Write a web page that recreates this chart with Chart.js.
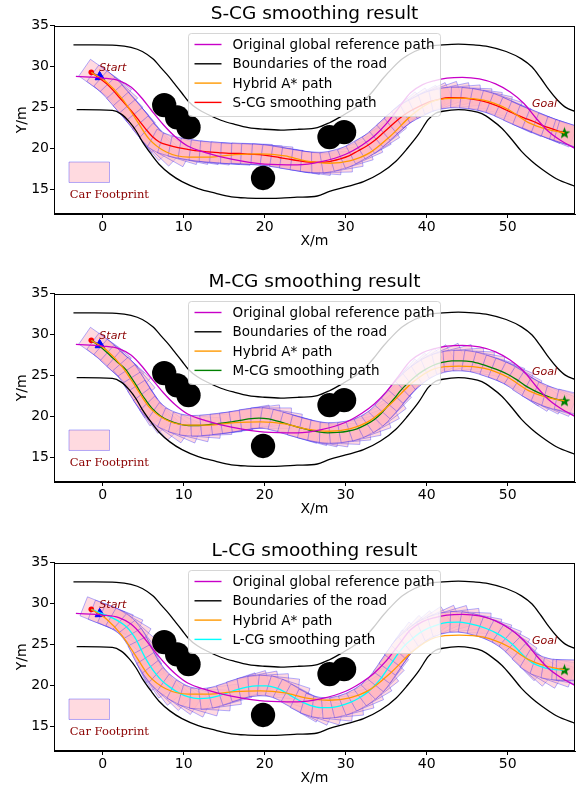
<!DOCTYPE html>
<html>
<head>
<meta charset="utf-8">
<script src="https://cdn.jsdelivr.net/npm/chart.js@4.4.0/dist/chart.umd.min.js"></script>
<style>
  html, body { margin: 0; padding: 0; overflow: hidden; background: #fff; width: 582px; height: 785px; }
  .panel { position: absolute; left: 0; width: 582px; height: 262px; }
</style>
</head>
<body>
<div class="panel" style="top:0px"><canvas id="c0" width="582" height="262"></canvas></div>
<div class="panel" style="top:268px"><canvas id="c1" width="582" height="262"></canvas></div>
<div class="panel" style="top:537px"><canvas id="c2" width="582" height="262"></canvas></div>
<script>
// ---- data (x, y in metres) ----
const X_TICKS = [0, 10, 20, 30, 40, 50];
const Y_TICKS = [15, 20, 25, 30, 35];

const ROAD_UPPER = [[-3.6,32.65],[-1,32.65],[1.7,32.6],[3.5,32.35],[4.9,31.85],[6.2,30.95],[7.3,29.75],[8.2,28.75],[9,27.75],[9.8,26.75],[10.6,25.75],[11.7,24.85],[13,24.15],[14.6,23.45],[16.3,22.95],[18,22.55],[20,22.35],[22,22.25],[24.2,22.35],[26.5,22.55],[28,23.15],[29.5,23.95],[31,24.85],[32.2,25.75],[33.4,27.05],[34.6,28.55],[35.8,29.85],[37,30.95],[38.5,31.85],[40.2,32.45],[42,32.65],[43.9,32.75],[45.8,32.65],[47.6,32.45],[49.8,31.85],[51.7,30.95],[53,29.95],[54.1,28.55],[55.1,27.15],[56.1,25.95],[57.1,25.05],[58.5,24.45]];

const ROAD_LOWER = [[-3.2,24.75],[1.2,24.65],[2.3,24.2],[3.3,23.25],[4.1,22.2],[4.9,20.85],[6,19.3],[7,18.05],[8.3,16.9],[9.8,15.95],[11.8,15.1],[13.9,14.55],[15.9,14.1],[17.9,13.95],[20,13.9],[22,13.95],[24,14.05],[26.5,14.2],[28,14.75],[30,15.3],[32.2,15.95],[34.3,17.0],[36.2,18.45],[37.6,20.0],[39,21.75],[40.2,23.55],[41.1,24.3],[42,24.55],[43.9,24.75],[45.5,24.6],[46.8,24.25],[48,23.5],[49.3,22.45],[50.5,21.1],[51.7,19.65],[52.9,18.5],[54.1,17.55],[56,16.3],[58.5,15.3]];

const REF_PATH = [[-3.3,28.8],[0,28.6],[2,28.3],[3.5,27.5],[4.8,26.2],[6,24.7],[7.5,22.9],[9,21.4],[10.5,20.3],[12.7,19.5],[15.9,18.7],[20,18.1],[24,18.0],[27,18.4],[30,19.3],[32,20.4],[33.5,21.5],[35,23.0],[36.5,24.9],[38,26.8],[39.5,27.8],[41,28.3],[42.5,28.6],[44.4,28.7],[46.5,28.5],[48.5,27.9],[50.3,26.9],[52,25.5],[53.5,23.7],[55,22.1],[56.5,21.0],[58.5,19.9]];

const HYBRID_ASTAR = [[-1.4,29.3],[0.5,28.1],[2.4,26.1],[4.1,23.6],[5.7,21.2],[7.8,19.6],[10.6,18.95],[13,18.95],[16.3,19.25],[19.5,19.35],[22.5,19.1],[25,18.5],[28,18.2],[30.5,18.5],[33,19.5],[35.5,21.5],[38.3,24.2],[41,25.85],[44,26.15],[47,25.9],[50,24.8],[52.5,23.2],[55,22.3],[57,21.9]];

const S_CG = [[-1.4,29.3],[-0.4,28.6],[0.5,27.9],[1.3,27.1],[2.1,26.2],[2.9,25.3],[3.7,24.4],[4.5,23.4],[5.3,22.4],[6.1,21.5],[7.0,20.8],[8.1,20.4],[9.3,20.1],[10.5,19.9],[11.8,19.7],[13.0,19.6],[14.3,19.5],[15.6,19.4],[16.9,19.4],[18.1,19.3],[19.4,19.25],[20.6,19.1],[21.8,18.9],[23.0,18.7],[24.3,18.5],[25.5,18.35],[26.8,18.3],[28.0,18.4],[29.2,18.7],[30.4,19.1],[31.5,19.7],[32.6,20.3],[33.6,21.0],[34.5,21.8],[35.4,22.6],[36.3,23.4],[37.2,24.1],[38.2,24.7],[39.2,25.2],[40.3,25.7],[41.5,26.0],[42.7,26.2],[44.0,26.2],[45.2,26.1],[46.4,25.9],[47.6,25.6],[48.7,25.2],[49.8,24.7],[50.9,24.2],[52.0,23.75],[53.2,23.3],[54.3,22.8],[55.5,22.4],[56.5,22.05],[57.0,21.9]];

const M_CG = [[-1.4,29.3],[-0.4,28.6],[0.5,27.85],[1.3,27.1],[2.1,26.4],[2.9,25.7],[3.5,24.8],[4.1,23.9],[4.7,22.9],[5.4,21.9],[6.2,20.9],[7.1,20.1],[8.2,19.5],[9.4,19.1],[10.6,18.9],[11.9,18.9],[13.1,19.0],[14.4,19.15],[15.6,19.3],[16.8,19.5],[18.0,19.7],[19.3,19.8],[20.5,19.7],[21.7,19.4],[22.9,19.05],[24.1,18.7],[25.3,18.4],[26.5,18.15],[27.8,18.0],[29.0,18.05],[30.2,18.2],[31.4,18.5],[32.5,19.0],[33.5,19.6],[34.4,20.4],[35.2,21.3],[36.0,22.2],[36.8,23.2],[37.7,24.1],[38.6,24.9],[39.6,25.6],[40.7,26.2],[41.9,26.6],[43.1,26.8],[44.3,26.8],[45.5,26.7],[46.7,26.4],[47.9,26.0],[49.0,25.6],[50.1,25.1],[51.1,24.5],[52.1,23.8],[53.2,23.2],[54.3,22.7],[55.5,22.25],[57.0,21.9]];

const L_CG = [[-1.4,29.3],[-0.4,28.9],[0.8,28.45],[1.9,27.9],[2.9,27.2],[3.6,26.4],[4.2,25.5],[4.7,24.5],[5.2,23.5],[5.8,22.5],[6.5,21.5],[7.3,20.6],[8.3,19.8],[9.4,19.1],[10.6,18.6],[11.8,18.4],[13.0,18.45],[14.2,18.7],[15.4,19.1],[16.6,19.5],[17.8,19.8],[19.0,19.95],[20.2,19.95],[21.4,19.7],[22.5,19.2],[23.5,18.6],[24.6,18.0],[25.7,17.55],[26.9,17.3],[28.1,17.3],[29.3,17.5],[30.5,17.9],[31.6,18.45],[32.6,19.1],[33.5,19.9],[34.3,20.8],[35.0,21.8],[35.7,22.8],[36.4,23.8],[37.2,24.8],[38.1,25.6],[39.1,26.4],[40.2,27.0],[41.4,27.45],[42.6,27.7],[43.9,27.75],[45.1,27.6],[46.3,27.3],[47.5,26.9],[48.6,26.4],[49.6,25.8],[50.5,25.1],[51.3,24.3],[52.1,23.5],[53.0,22.8],[54.1,22.3],[55.3,22.0],[56.5,21.9],[57.0,21.9]];

const OBSTACLES = [[7.6,25.3],[9.2,23.8],[10.6,22.6],[19.8,16.4],[28,21.4],[29.8,22.0]];
const OBSTACLE_R = 1.5;

const START = [-1.4, 29.3];
const ARROW_HEAD = [-0.35, 28.75];
const GOAL = [57, 21.9];

// car footprint: rear overhang, length, width (m)
const CAR = { rear: 1.0, length: 5.0, width: 2.5 };
const CAR_LEGEND_AT = [-3.15, 17.1];

const NOTES = [
  { text: 'Start', at: [-0.4, 29.8], font: 'italic 11px "DejaVu Sans"' },
  { text: 'Goal', at: [53.0, 25.4], font: 'italic 11px "DejaVu Sans"' },
  { text: 'Car Footprint', at: [-4.05, 14.3], font: '11.5px "DejaVu Serif"' }
];

Chart.defaults.font.family = '"DejaVu Sans", sans-serif';
Chart.defaults.color = '#000';

const toXY = arr => arr.map(p => ({ x: p[0], y: p[1] }));

// filled star used as goal marker
const starImg = document.createElement('canvas');
starImg.width = 13; starImg.height = 13;
(function () {
  const g = starImg.getContext('2d');
  g.beginPath();
  for (let i = 0; i < 10; i++) {
    const r = i % 2 ? 2.6 : 6.2;
    const a = -Math.PI / 2 + i * Math.PI / 5;
    g.lineTo(6.5 + r * Math.cos(a), 6.8 + r * Math.sin(a));
  }
  g.closePath();
  g.fillStyle = '#008000';
  g.fill();
})();

function carPolygon(sx, sy, px, py, th) {
  const c = Math.cos(th), s = Math.sin(th);
  const hw = CAR.width / 2;
  const rx = px - CAR.rear * c, ry = py - CAR.rear * s;
  const fx = rx + CAR.length * c, fy = ry + CAR.length * s;
  return [[rx + hw * s, ry - hw * c], [fx + hw * s, fy - hw * c], [fx - hw * s, fy + hw * c], [rx - hw * s, ry + hw * c]]
    .map(q => [sx.getPixelForValue(q[0]), sy.getPixelForValue(q[1])]);
}

function drawCar(ctx, sx, sy, px, py, th) {
  const pts = carPolygon(sx, sy, px, py, th);
  ctx.beginPath();
  pts.forEach((q, i) => i ? ctx.lineTo(q[0], q[1]) : ctx.moveTo(q[0], q[1]));
  ctx.closePath();
  ctx.fillStyle = 'rgba(255,182,193,0.5)';
  ctx.fill();
  ctx.strokeStyle = 'rgba(0,0,255,0.3)';
  ctx.lineWidth = 1;
  ctx.stroke();
}

const footprintPlugin = {
  id: 'footprints',
  beforeDatasetsDraw(chart) {
    const { ctx, chartArea: a, scales: { x, y } } = chart;
    const path = chart.options.plugins.footprints.path;
    ctx.save();
    ctx.beginPath();
    ctx.rect(a.left, a.top, a.width, a.height);
    ctx.clip();
    path.forEach((p, i) => {
      const q0 = path[Math.max(i - 1, 0)], q1 = path[Math.min(i + 1, path.length - 1)];
      const th = Math.atan2(q1[1] - q0[1], q1[0] - q0[0]);
      drawCar(ctx, x, y, p[0], p[1], th);
    });
    drawCar(ctx, x, y, CAR_LEGEND_AT[0], CAR_LEGEND_AT[1], 0);
    ctx.restore();
  },
  afterDatasetsDraw(chart) {
    const { ctx, scales: { x, y } } = chart;
    ctx.save();
    ctx.fillStyle = '#8b0000';
    ctx.textBaseline = 'middle';
    NOTES.forEach(n => {
      ctx.font = n.font;
      ctx.fillText(n.text, x.getPixelForValue(n.at[0]), y.getPixelForValue(n.at[1]));
    });
    ctx.restore();
  },
  afterDraw(chart) {
    const { ctx, chartArea: a } = chart;
    // legend (upper center, over the data)
    const items = chart.data.datasets.filter(d => d.inLegend);
    ctx.save();
    ctx.font = '13.5px "DejaVu Sans"';
    const tw = Math.max(...items.map(d => ctx.measureText(d.label).width));
    const w = 44 + tw + 6, h = 83;
    const left = Math.round((a.left + a.right) / 2 - w / 2) + 0.5, top = Math.round(a.top + 7) + 0.5;
    ctx.beginPath();
    ctx.roundRect(left, top, w, h, 3);
    ctx.fillStyle = 'rgba(255,255,255,0.8)';
    ctx.fill();
    ctx.strokeStyle = 'rgba(204,204,204,0.8)';
    ctx.lineWidth = 1;
    ctx.stroke();
    ctx.textBaseline = 'middle';
    items.forEach((d, i) => {
      const yy = top + 11 + i * 19.3;
      ctx.beginPath();
      ctx.moveTo(left + 6, yy);
      ctx.lineTo(left + 33, yy);
      ctx.strokeStyle = d.borderColor;
      ctx.lineWidth = 1.4;
      ctx.stroke();
      ctx.fillStyle = '#000';
      ctx.fillText(d.label, left + 44, yy + 1);
    });
    // axes frame
    ctx.strokeStyle = '#000';
    ctx.lineWidth = 1;
    ctx.strokeRect(Math.round(a.left) + 0.5, Math.round(a.top) + 0.5, Math.round(a.width) - 1, Math.round(a.height) - 1);
    ctx.restore();
  }
};

function lineSet(label, arr, color, inLegend) {
  return {
    label: label, data: toXY(arr), showLine: true, borderColor: color, backgroundColor: color,
    borderWidth: 1.3, pointRadius: 0, cubicInterpolationMode: 'monotone', clip: 0, inLegend: inLegend
  };
}

function makeChart(id, title, smoothLabel, smoothColor, smoothPath) {
  return new Chart(document.getElementById(id), {
    type: 'scatter',
    data: {
      datasets: [
        lineSet('Original global reference path', REF_PATH, '#c800c8', true),
        lineSet('Boundaries of the road', ROAD_UPPER, '#000000', true),
        lineSet('lower', ROAD_LOWER, '#000000', false),
        lineSet('Hybrid A* path', HYBRID_ASTAR, '#ff9900', true),
        lineSet(smoothLabel, smoothPath, smoothColor, true),
        {
          label: 'obstacles', data: toXY(OBSTACLES), showLine: false, clip: 0,
          backgroundColor: '#000', borderColor: '#000', borderWidth: 0,
          pointRadius: c => {
            const s = c.chart.scales.x;
            return Math.abs(s.getPixelForValue(OBSTACLE_R) - s.getPixelForValue(0));
          }
        },
        {
          label: 'arrow', data: toXY([START, ARROW_HEAD]), showLine: true, borderColor: '#0000ff',
          borderWidth: 1.5, pointRadius: 0, clip: 0
        },
        {
          label: 'arrowHead', data: toXY([ARROW_HEAD]), pointStyle: 'triangle', pointRadius: 5.5,
          backgroundColor: '#0000ff', borderColor: '#0000ff', borderWidth: 1,
          rotation: c => {
            const sx = c.chart.scales.x, sy = c.chart.scales.y;
            const dx = sx.getPixelForValue(ARROW_HEAD[0]) - sx.getPixelForValue(START[0]);
            const dy = sy.getPixelForValue(ARROW_HEAD[1]) - sy.getPixelForValue(START[1]);
            return Math.atan2(dy, dx) * 180 / Math.PI + 90;
          }
        },
        {
          label: 'start', data: toXY([START]), pointRadius: 2.8,
          backgroundColor: '#ff0000', borderColor: '#ff0000', borderWidth: 0
        },
        {
          label: 'goal', data: toXY([GOAL]), pointStyle: starImg, pointRadius: 6
        }
      ]
    },
    options: {
      responsive: false,
      animation: false,
      events: [],
      layout: { padding: { left: 0, right: 3, top: 0, bottom: 0 } },
      plugins: {
        legend: { display: false },
        tooltip: { enabled: false },
        title: {
          display: true, text: title, color: '#000', fullSize: false,
          font: { size: 18.5, weight: 'normal' },
          padding: { top: 3.5, bottom: 0 }
        },
        footprints: { path: smoothPath }
      },
      scales: {
        x: {
          type: 'linear', min: -6, max: 58.3,
          afterBuildTicks: s => { s.ticks = X_TICKS.map(v => ({ value: v })); },
          afterFit: s => { s.height = 48; },
          ticks: { color: '#000', font: { size: 14 }, padding: 1, maxRotation: 0 },
          grid: { display: true, drawOnChartArea: false, drawTicks: true, tickLength: 4, color: '#000' },
          border: { display: true, color: '#000', width: 1 },
          title: { display: true, text: 'X/m', color: '#000', font: { size: 14 }, padding: { top: 0, bottom: 12 } }
        },
        y: {
          type: 'linear', min: 12, max: 35,
          afterBuildTicks: s => { s.ticks = Y_TICKS.map(v => ({ value: v })); },
          afterFit: s => { s.width = 54; },
          ticks: { color: '#000', font: { size: 14 }, padding: 1 },
          grid: { display: true, drawOnChartArea: false, drawTicks: true, tickLength: 4, color: '#000' },
          border: { display: true, color: '#000', width: 1 },
          title: { display: true, text: 'Y/m', color: '#000', font: { size: 14 }, padding: { top: 14, bottom: 0 } }
        }
      }
    },
    plugins: [footprintPlugin]
  });
}

makeChart('c0', 'S-CG smoothing result', 'S-CG smoothing path', '#ff0000', S_CG);
makeChart('c1', 'M-CG smoothing result', 'M-CG smoothing path', '#008000', M_CG);
makeChart('c2', 'L-CG smoothing result', 'L-CG smoothing path', '#00ffff', L_CG);
</script>
</body>
</html>
